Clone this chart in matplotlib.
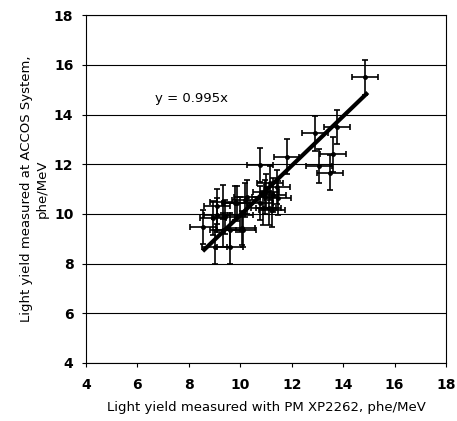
import matplotlib
matplotlib.use('Agg')
import matplotlib.pyplot as plt
import numpy as np

# light yield pairs (PM XP2262, ACCOS)
x_pm = [14.86, 12.9, 13.77, 13.6, 13.07, 13.5, 10.77, 11.8, 11.43, 11.16,
        8.55, 8.94, 9.1, 9.33, 9.4, 9.6, 9.6, 9.0, 9.87, 9.99,
        10.1, 10.19, 10.77, 10.96, 10.9, 11.24, 11.28, 11.47, 10.07, 9.33,
        9.1, 9.8, 10.26, 11.1, 11.0]
y_accos = [15.5, 13.25, 13.5, 12.4, 11.93, 11.65, 11.97, 12.3, 11.08, 11.24,
           9.47, 9.83, 10.3, 10.48, 9.87, 9.35, 8.67, 8.67, 10.43, 9.96,
           9.35, 10.56, 10.44, 10.68, 10.24, 10.16, 10.76, 10.64, 9.43, 9.35,
           9.95, 10.44, 10.68, 10.24, 10.9]
x_err = 0.5
y_err = 0.7
slope = 0.995
fit_x = [8.6, 14.9]

fig = plt.figure(figsize=(4.57, 4.21), dpi=100)
ax = fig.add_axes([0.188, 0.138, 0.788, 0.826])

ax.errorbar(x_pm, y_accos, xerr=x_err, yerr=y_err, fmt='o', color='black',
            ms=2.5, elinewidth=1.2, capsize=2.5, capthick=1.2, zorder=3)
fx = np.array(fit_x)
ax.plot(fx, slope * fx, color='black', lw=3, zorder=4)
ax.text(8.1, 14.65, 'y = 0.995x', ha='center', va='center', fontsize=9.5)

ax.set_xlim(4, 18)
ax.set_ylim(4, 18)
ax.set_xticks(range(4, 19, 2))
ax.set_yticks(range(4, 19, 2))
ax.yaxis.grid(True, color='black', lw=0.8)
ax.set_axisbelow(True)
for s in ax.spines.values():
    s.set_linewidth(0.8)
ax.tick_params(labelsize=10, length=3, width=0.8)
ax.tick_params(axis='x', pad=8)
ax.tick_params(axis='y', pad=6)
for lab in ax.get_xticklabels() + ax.get_yticklabels():
    lab.set_fontweight('bold')

ax.set_xlabel('Light yield measured with PM XP2262, phe/MeV', fontsize=9.5, labelpad=6)
ax.set_ylabel('Light yield measured at ACCOS System,\nphe/MeV', fontsize=9.5)

plt.savefig('out.png', dpi=100)
